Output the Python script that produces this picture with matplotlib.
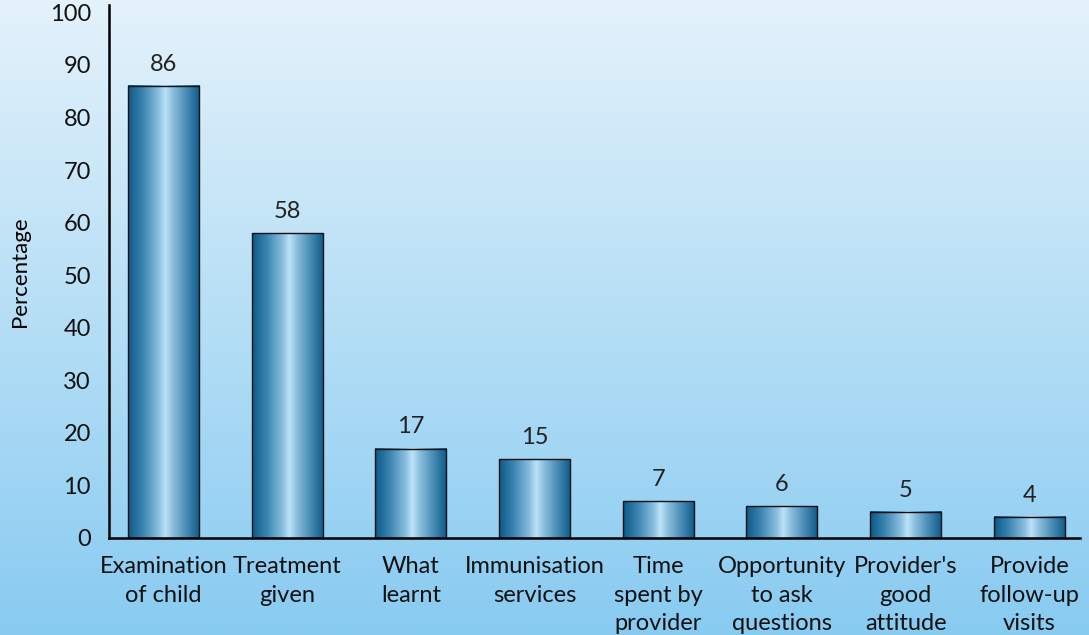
import numpy as np
import matplotlib
matplotlib.use('Agg')
import matplotlib.pyplot as plt
from matplotlib.colors import LinearSegmentedColormap

# Data
categories = ['Examination\nof child', 'Treatment\ngiven', 'What\nlearnt',
              'Immunisation\nservices', 'Time\nspent by\nprovider',
              'Opportunity\nto ask\nquestions', "Provider's\ngood\nattitude",
              'Provide\nfollow-up\nvisits']
values = [86, 58, 17, 15, 7, 6, 5, 4]
y_ticks = [0, 10, 20, 30, 40, 50, 60, 70, 80, 90, 100]

plt.rcParams['font.family'] = ['Lato', 'DejaVu Sans']

fig = plt.figure(figsize=(10.89, 6.35), dpi=100)

# Background vertical gradient
bg = fig.add_axes([0, 0, 1, 1], zorder=0)
bg_cmap = LinearSegmentedColormap.from_list('bg', ['#e4f2fb', '#88cbf1'])
bg.imshow(np.linspace(0, 1, 256).reshape(-1, 1), aspect='auto', cmap=bg_cmap,
          extent=[0, 1, 0, 1], origin='upper')
bg.axis('off')

ax = fig.add_axes([0.1001, 0.1528, 0.8916, 0.8394], zorder=1)
ax.set_facecolor('none')

# Cylinder-like horizontal gradient for the bars
bar_cmap = LinearSegmentedColormap.from_list('bar', [
    (0.0, '#0b5888'), (0.2, '#3a83b0'), (0.42, '#86bddd'),
    (0.52, '#bce3f8'), (0.62, '#8cc0de'), (0.8, '#4d8fb8'), (1.0, '#0c5a8a')])
grad = np.linspace(0, 1, 256).reshape(1, -1)

x = np.arange(len(categories))
width = 0.574
bars = ax.bar(x, values, width=width, facecolor='none', edgecolor='#111111',
              linewidth=1.0, zorder=3)
for b in bars:
    x0 = b.get_x()
    h = b.get_height()
    ax.imshow(grad, aspect='auto', cmap=bar_cmap, extent=[x0, x0 + width, 0, h],
              zorder=2)

for xi, v in zip(x, values):
    ax.annotate(str(v), (xi, v), xytext=(0, 8), textcoords='offset points',
                ha='center', va='bottom', fontsize=17, color='#222222')

ax.set_xlim(-0.4406, 7.409)
ax.set_ylim(0, 101.4)
ax.set_yticks(y_ticks)
ax.set_xticks(x)
ax.set_xticklabels(categories, fontsize=17, linespacing=1.45, color='#111111')
ax.tick_params(axis='y', labelsize=17, length=0, pad=13, labelcolor='#111111')
ax.tick_params(axis='x', length=0, pad=13)
for s in ['top', 'right']:
    ax.spines[s].set_visible(False)
for s in ['left', 'bottom']:
    ax.spines[s].set_linewidth(1.8)
    ax.spines[s].set_color('black')
ax.set_ylabel('Percentage', fontsize=16, labelpad=14)

fig.savefig('out.png', dpi=100)
